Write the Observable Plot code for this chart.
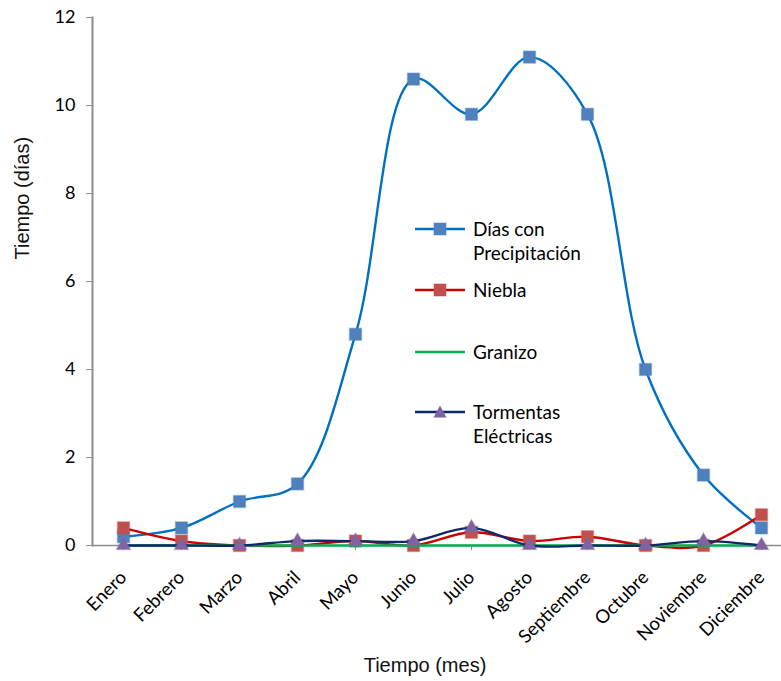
<!DOCTYPE html>
<html>
<head>
<meta charset="utf-8">
<script src="https://cdn.jsdelivr.net/npm/d3@7"></script>
<script src="https://cdn.jsdelivr.net/npm/@observablehq/plot@0.6"></script>
<style>
  body { margin: 0; background: #fff; }
  #chart { position: relative; width: 781px; height: 681px; }
  #legend { position: absolute; left: 415px; top: 0; font-family: Lato, "Open Sans", sans-serif; font-size: 19px; color: #000; }
  .item { position: absolute; left: 0; display: flex; align-items: flex-start; white-space: nowrap; line-height: 24px; }
  .item svg { flex: none; margin-right: 4px; }
</style>
</head>
<body>
<div id="chart"></div>
<script>
// Meses del año (eje X)
const meses = ["Enero", "Febrero", "Marzo", "Abril", "Mayo", "Junio", "Julio",
  "Agosto", "Septiembre", "Octubre", "Noviembre", "Diciembre"];

// Promedio mensual de días con cada fenómeno
const precipitacion = [0.2, 0.4, 1.0, 1.4, 4.8, 10.6, 9.8, 11.1, 9.8, 4.0, 1.6, 0.4];
const niebla        = [0.4, 0.1, 0.0, 0.0, 0.1, 0.0, 0.3, 0.1, 0.2, 0.0, 0.0, 0.7];
const granizo       = [0, 0, 0, 0, 0, 0, 0, 0, 0, 0, 0, 0];
const tormentas     = [0.0, 0.0, 0.0, 0.1, 0.1, 0.1, 0.4, 0.0, 0.0, 0.0, 0.1, 0.0];

// Marcas del eje Y
const yTicks = [0, 2, 4, 6, 8, 10, 12];

// Series: nombre (líneas de la leyenda), color de línea, símbolo y color del marcador
const series = [
  { nombre: ["Días con", "Precipitación"], valores: precipitacion, linea: "#0070C0", simbolo: "square", marcador: "#4F81BD", r: 6.8 },
  { nombre: ["Niebla"], valores: niebla, linea: "#CC0000", simbolo: "square", marcador: "#C0504D", r: 6.8 },
  { nombre: ["Granizo"], valores: granizo, linea: "#00B050", simbolo: null },
  { nombre: ["Tormentas", "Eléctricas"], valores: tormentas, linea: "#0F2A6B", simbolo: "triangle", marcador: "#8064A2", r: 5.2 }
];

const filas = s => meses.map((mes, i) => ({ mes, valor: s.valores[i] }));

const marks = [
  Plot.ruleY([0], { stroke: "#8C8C8C", strokeWidth: 1.6 }),
  Plot.frame({ anchor: "left", stroke: "#8C8C8C", strokeWidth: 2 }),
  Plot.axisY({ ticks: yTicks, tickSize: 6, tickPadding: 11, stroke: "#8C8C8C", label: null, fontSize: 18 }),
  Plot.axisX({ tickRotate: -45, tickSize: 5, tickPadding: 24, stroke: "#8C8C8C", label: null, fontSize: 18.5 }),
  Plot.text(["Tiempo (días)"], { frameAnchor: "left", rotate: -90, dx: -70, dy: -22,
    fontFamily: "Liberation Sans, Arial, sans-serif", fontSize: 20, fontWeight: "normal", fill: "#111" }),
  Plot.text(["Tiempo (mes)"], { frameAnchor: "bottom", dx: -12, dy: 126,
    fontFamily: "Liberation Sans, Arial, sans-serif", fontSize: 20, fontWeight: "normal", fill: "#111" })
];

for (const s of series) {
  const datos = filas(s);
  marks.push(Plot.line(datos, { x: "mes", y: "valor", stroke: s.linea, strokeWidth: 2.4, curve: "catmull-rom" }));
  if (s.simbolo) {
    marks.push(Plot.dot(datos, { x: "mes", y: "valor", symbol: s.simbolo, r: s.r,
      fill: s.marcador, stroke: s.marcador, strokeOpacity: 0.35, strokeWidth: 1.5 }));
  }
}

const chart = Plot.plot({
  width: 781,
  height: 681,
  marginLeft: 92,
  marginRight: 0,
  marginTop: 17,
  marginBottom: 136,
  style: { fontFamily: "Lato, 'Open Sans', sans-serif", fontSize: "18px", color: "#000", background: "#fff" },
  x: { type: "point", domain: meses, padding: 0, insetLeft: 31, insetRight: 20 },
  y: { domain: [0, 12] },
  marks
});

const cont = document.getElementById("chart");
cont.appendChild(chart);

// Leyenda dentro del área del gráfico
const leyenda = document.createElement("div");
leyenda.id = "legend";
const tops = [217, 278, 340, 400];
series.forEach((s, k) => {
  const item = document.createElement("div");
  item.className = "item";
  item.style.top = tops[k] + "px";
  let marcador = "";
  if (s.simbolo === "square") {
    marcador = `<rect x="19" y="6" width="12" height="12" fill="${s.marcador}" stroke="${s.marcador}" stroke-opacity="0.35" stroke-width="1.5"/>`;
  } else if (s.simbolo === "triangle") {
    marcador = `<path d="M25,5.5 L31.5,17.5 L18.5,17.5 Z" fill="${s.marcador}"/>`;
  }
  item.innerHTML = `<svg width="54" height="24"><line x1="0" x2="50" y1="12" y2="12" stroke="${s.linea}" stroke-width="2.4"/>${marcador}</svg><div>${s.nombre.join("<br>")}</div>`;
  leyenda.appendChild(item);
});
cont.appendChild(leyenda);
</script>
</body>
</html>
